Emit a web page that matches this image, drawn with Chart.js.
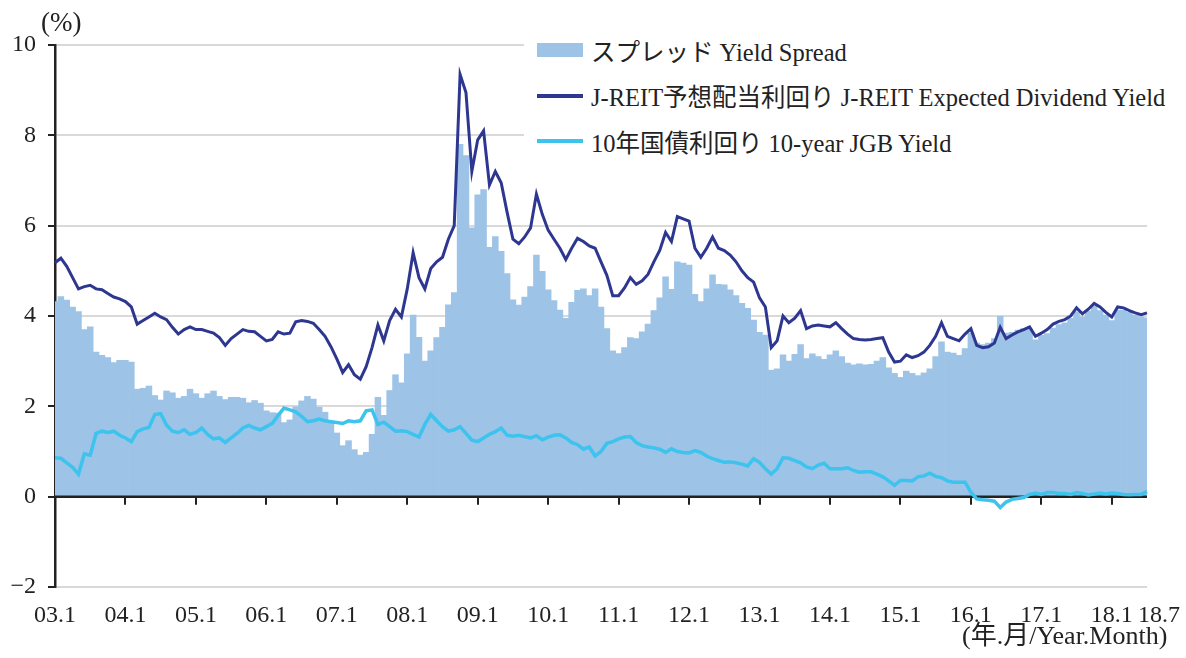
<!DOCTYPE html>
<html>
<head>
<meta charset="utf-8">
<script src="https://cdn.jsdelivr.net/npm/chart.js@4.4.0/dist/chart.umd.min.js"></script>
<style>
html, body { margin: 0; padding: 0; background: #fff; }
#wrap { position: relative; width: 1186px; height: 658px; font-family: "Liberation Serif", "Noto Sans CJK JP", serif; color: #222; }
#chart { position: absolute; left: 0; top: 0; }
.lbl { position: absolute; line-height: 1; white-space: nowrap; }
#legend { position: absolute; left: 524px; top: 26px; width: 660px; height: 136px; background: #fff; }
.row { position: absolute; left: 13px; height: 26px; display: flex; align-items: center; font-size: 24.5px; white-space: nowrap; }
.sw { width: 46px; margin-right: 8px; }
</style>
</head>
<body>
<div id="wrap">
  <canvas id="chart" width="1186" height="658"></canvas>
  <div class="lbl" style="left:41px; top:9px; font-size:27px;">(%)</div>
  <div class="lbl" style="left:962px; top:623px; font-size:26px;">(年.月/Year.Month)</div>
  <div id="legend"></div>
</div>
<script>
// month labels 03.1 ... 18.7
var monthLabels = [];
for (var yr = 3; yr <= 18; yr++) {
  for (var mo = 1; mo <= 12; mo++) {
    if (yr === 18 && mo > 7) break;
    monthLabels.push((yr < 10 ? "0" : "") + yr + "." + mo);
  }
}

var seriesNames = [
  "スプレッド Yield Spread",
  "J-REIT予想配当利回り J-REIT Expected Dividend Yield",
  "10年国債利回り 10-year JGB Yield"
];
var seriesColors = ["#9dc3e6", "#2e3790", "#3cc3ee"];

// J-REIT expected dividend yield (%), monthly
var dividendYield = [
  5.18, 5.28, 5.10, 4.85, 4.60, 4.65, 4.68, 4.60, 4.58, 4.50, 4.42, 4.38,
  4.32, 4.20, 3.82, 3.90, 3.98, 4.06, 3.98, 3.92, 3.75, 3.60, 3.70, 3.76,
  3.70, 3.70, 3.66, 3.62, 3.52, 3.35, 3.50, 3.60, 3.70, 3.66, 3.65, 3.55,
  3.45, 3.48, 3.65, 3.60, 3.62, 3.87, 3.90, 3.88, 3.84, 3.70, 3.55, 3.32,
  3.05, 2.75, 2.92, 2.70, 2.60, 2.88, 3.30, 3.80, 3.45, 3.90, 4.15, 3.98,
  4.60, 5.40, 4.85, 4.60, 5.05, 5.20, 5.30, 5.70, 6.00, 9.35, 8.95, 7.20,
  7.90, 8.10, 6.90, 7.20, 6.95, 6.30, 5.70, 5.60, 5.75, 5.95, 6.70, 6.25,
  5.90, 5.70, 5.50, 5.25, 5.50, 5.72, 5.65, 5.55, 5.50, 5.20, 4.90, 4.45,
  4.45, 4.62, 4.85, 4.70, 4.78, 4.92, 5.20, 5.45, 5.85, 5.65, 6.20, 6.15,
  6.10, 5.50, 5.30, 5.50, 5.75, 5.50, 5.45, 5.35, 5.20, 5.00, 4.85, 4.75,
  4.40, 4.20, 3.30, 3.45, 4.00, 3.85, 3.95, 4.12, 3.72, 3.78, 3.80, 3.78,
  3.76, 3.85, 3.72, 3.60, 3.50, 3.48, 3.47, 3.48, 3.50, 3.52, 3.20, 2.98,
  3.00, 3.14, 3.08, 3.12, 3.20, 3.35, 3.55, 3.85, 3.55, 3.50, 3.45, 3.60,
  3.72, 3.35, 3.30, 3.32, 3.40, 3.75, 3.50, 3.58, 3.65, 3.70, 3.76, 3.55,
  3.62, 3.70, 3.82, 3.88, 3.92, 4.00, 4.18, 4.05, 4.15, 4.28, 4.20, 4.08,
  3.98, 4.20, 4.18, 4.12, 4.07, 4.03, 4.07
];

// 10-year JGB yield (%), monthly
var jgbYield = [
  0.86, 0.85, 0.75, 0.65, 0.50, 0.95, 0.92, 1.40, 1.45, 1.42, 1.45, 1.36,
  1.30, 1.22, 1.44, 1.50, 1.53, 1.82, 1.84, 1.58, 1.45, 1.42, 1.48, 1.38,
  1.42, 1.52, 1.38, 1.28, 1.30, 1.20, 1.30, 1.40, 1.52, 1.58, 1.52, 1.48,
  1.55, 1.62, 1.80, 1.96, 1.92, 1.88, 1.78, 1.66, 1.68, 1.72, 1.68, 1.66,
  1.64, 1.62, 1.68, 1.66, 1.68, 1.90, 1.92, 1.60, 1.65, 1.55, 1.45, 1.46,
  1.44, 1.38, 1.32, 1.60, 1.82, 1.68, 1.55, 1.45, 1.48, 1.55, 1.40, 1.25,
  1.22, 1.30, 1.38, 1.44, 1.52, 1.36, 1.34, 1.36, 1.33, 1.30, 1.35, 1.26,
  1.32, 1.36, 1.37, 1.30, 1.20, 1.15, 1.05, 1.10, 0.90, 1.00, 1.18, 1.22,
  1.28, 1.32, 1.33, 1.20, 1.13, 1.10, 1.08, 1.05, 0.98, 1.06, 1.00, 0.98,
  0.97, 1.02, 0.98, 0.90, 0.84, 0.80, 0.76, 0.77, 0.75, 0.72, 0.68, 0.84,
  0.76, 0.62, 0.50, 0.62, 0.86, 0.85, 0.80, 0.75, 0.66, 0.62, 0.70, 0.74,
  0.62, 0.62, 0.62, 0.64, 0.58, 0.54, 0.55, 0.55, 0.50, 0.44, 0.35, 0.25,
  0.36, 0.36, 0.35, 0.44, 0.46, 0.52, 0.45, 0.42, 0.35, 0.32, 0.32, 0.32,
  0.10, -0.05, -0.07, -0.08, -0.10, -0.24, -0.12, -0.06, -0.04, -0.02, 0.05, 0.08,
  0.05, 0.09, 0.09, 0.07, 0.07, 0.05, 0.09, 0.07, 0.04, 0.06, 0.08, 0.06,
  0.08, 0.07, 0.05, 0.04, 0.05, 0.05, 0.11
];

// yield spread (%), monthly
var yieldSpread = [
  4.32, 4.43, 4.35, 4.20, 4.10, 3.70, 3.76, 3.20, 3.13, 3.08, 2.97, 3.02,
  3.02, 2.98, 2.38, 2.40, 2.45, 2.24, 2.14, 2.34, 2.30, 2.18, 2.22, 2.38,
  2.28, 2.18, 2.28, 2.34, 2.22, 2.15, 2.20, 2.20, 2.18, 2.08, 2.13, 2.07,
  1.90, 1.86, 1.85, 1.64, 1.70, 1.99, 2.12, 2.22, 2.16, 1.98, 1.87, 1.66,
  1.41, 1.13, 1.24, 1.04, 0.92, 0.98, 1.38, 2.20, 1.80, 2.35, 2.70, 2.52,
  3.16, 4.02, 3.53, 3.00, 3.23, 3.52, 3.75, 4.25, 4.52, 7.80, 7.55, 5.95,
  6.68, 6.80, 5.52, 5.76, 5.43, 4.94, 4.36, 4.24, 4.42, 4.65, 5.35, 4.99,
  4.58, 4.34, 4.13, 3.95, 4.30, 4.57, 4.60, 4.45, 4.60, 4.20, 3.72, 3.23,
  3.17, 3.30, 3.52, 3.50, 3.65, 3.82, 4.12, 4.40, 4.87, 4.59, 5.20, 5.17,
  5.13, 4.48, 4.32, 4.60, 4.91, 4.70, 4.69, 4.58, 4.45, 4.28, 4.17, 3.91,
  3.64, 3.58, 2.80, 2.83, 3.14, 3.00, 3.15, 3.37, 3.06, 3.16, 3.10, 3.04,
  3.14, 3.23, 3.10, 2.96, 2.92, 2.94, 2.92, 2.93, 3.00, 3.08, 2.85, 2.73,
  2.64, 2.78, 2.73, 2.68, 2.74, 2.83, 3.10, 3.43, 3.20, 3.18, 3.13, 3.28,
  3.62, 3.40, 3.37, 3.40, 3.50, 3.99, 3.62, 3.64, 3.69, 3.72, 3.71, 3.47,
  3.57, 3.61, 3.73, 3.81, 3.85, 3.95, 4.09, 3.98, 4.11, 4.22, 4.12, 4.02,
  3.90, 4.13, 4.13, 4.08, 4.02, 3.98, 3.96
];

var fontFamily = '"Liberation Serif", "Noto Sans CJK JP", serif';
var lastIdx = monthLabels.length - 1;

// html legend
var legendEl = document.getElementById("legend");
seriesNames.forEach(function (name, i) {
  var row = document.createElement("div");
  row.className = "row";
  row.style.top = (11 + i * 45.5) + "px";
  var sw = document.createElement("div");
  sw.className = "sw";
  sw.style.height = i === 0 ? "14px" : "4px";
  sw.style.background = seriesColors[i];
  row.appendChild(sw);
  row.appendChild(document.createTextNode(name));
  legendEl.appendChild(row);
});

// black zero line with year ticks, drawn right after the bars
var zeroAxis = {
  id: "zeroAxis",
  afterDatasetDraw: function (chart, args) {
    if (args.index !== 0) return;
    var ctx = chart.ctx, area = chart.chartArea;
    var xs = chart.scales.x, ys = chart.scales.y;
    var y0 = ys.getPixelForValue(0);
    ctx.save();
    ctx.strokeStyle = "#222";
    ctx.lineWidth = 2.5;
    ctx.beginPath();
    ctx.moveTo(area.left, y0);
    ctx.lineTo(area.right, y0);
    ctx.stroke();
    ctx.lineWidth = 2;
    ctx.beginPath();
    for (var i = 12; i < lastIdx; i += 12) {
      var px = Math.round(xs.getPixelForValue(i));
      ctx.moveTo(px, y0);
      ctx.lineTo(px, y0 + 8);
    }
    ctx.stroke();
    ctx.restore();
  }
};

var config = {
  type: "bar",
  data: {
    labels: monthLabels,
    datasets: [{
      type: "bar",
      label: seriesNames[0],
      data: yieldSpread,
      backgroundColor: seriesColors[0],
      borderWidth: 0,
      barPercentage: 1,
      categoryPercentage: 1,
      order: 3
    }, {
      type: "line",
      label: seriesNames[1],
      data: dividendYield,
      borderColor: seriesColors[1],
      borderWidth: 3,
      pointRadius: 0,
      tension: 0,
      order: 2
    }, {
      type: "line",
      label: seriesNames[2],
      data: jgbYield,
      borderColor: seriesColors[2],
      borderWidth: 3.5,
      pointRadius: 0,
      tension: 0,
      order: 1
    }]
  },
  options: {
    responsive: false,
    animation: false,
    devicePixelRatio: 1,
    layout: { padding: { top: 45, right: 36, left: 0, bottom: 0 } },
    plugins: {
      legend: { display: false },
      tooltip: { enabled: false }
    },
    scales: {
      x: {
        offset: false,
        grid: { display: false },
        border: { display: false },
        ticks: {
          autoSkip: false,
          maxRotation: 0,
          padding: 6,
          color: "#222",
          font: { family: fontFamily, size: 24 },
          callback: function (v, i) {
            if (i === lastIdx) return "\u2003" + monthLabels[i];
            return i % 12 === 0 ? monthLabels[i] : null;
          }
        },
        afterFit: function (s) { s.height = 71; }
      },
      y: {
        min: -2,
        max: 10,
        ticks: {
          stepSize: 2,
          padding: 12,
          color: "#222",
          font: { family: fontFamily, size: 24 },
          callback: function (v) { return v < 0 ? "\u2212" + Math.abs(v) : v; }
        },
        grid: {
          color: function (c) { return c.tick && c.tick.value === 0 ? "rgba(0,0,0,0)" : "#d9d9d9"; },
          lineWidth: 2,
          tickColor: "#222",
          tickLength: 7
        },
        border: { display: true, color: "#222", width: 2.5 },
        afterFit: function (s) { s.width = 55; }
      }
    }
  },
  plugins: [zeroAxis]
};

var chart = new Chart(document.getElementById("chart"), config);
</script>
</body>
</html>
